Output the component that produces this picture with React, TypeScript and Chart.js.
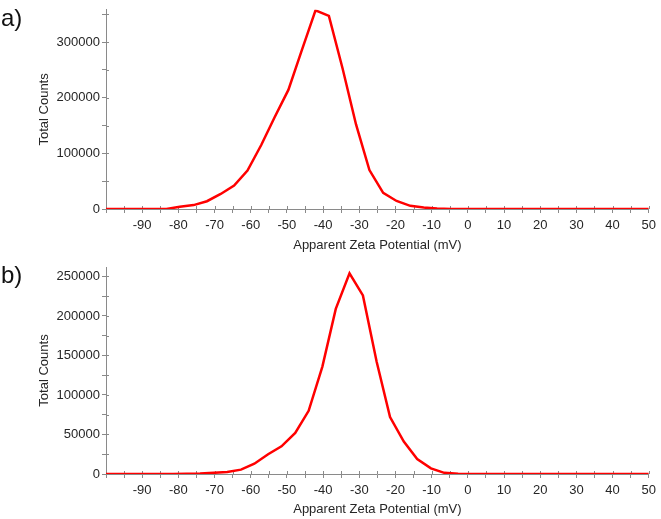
import React, { useEffect, useRef } from 'react';
import { Chart, registerables } from 'chart.js';

Chart.register(...registerables);

// Panel a) data
const zetaA = [-100, -83.3, -79.6, -75.8, -72.1, -68.3, -64.6, -60.9, -57.1, -53.4, -49.6, -45.9, -42.1, -38.4, -34.6, -30.9, -27.2, -23.4, -19.7, -15.9, -12.2, -8.5, -4.7, -1.0, 50];
const countsA = [0, 0, 4000, 7000, 14000, 27000, 42000, 69000, 115000, 165000, 214000, 285000, 357000, 347000, 252000, 152000, 70000, 29000, 14400, 5700, 2500, 800, 200, 0, 0];

// Panel b) data
const zetaB = [-100, -81.5, -77.7, -74.0, -70.2, -66.5, -62.7, -59.0, -55.2, -51.5, -47.7, -44.0, -40.2, -36.5, -32.7, -29.0, -25.2, -21.5, -17.7, -14.0, -10.2, -6.5, -2.7, 50];
const countsB = [0, 0, 300, 700, 1500, 2500, 5500, 13000, 25000, 35000, 52000, 80000, 136000, 209000, 254000, 226000, 142000, 72000, 41000, 19000, 7200, 1500, 200, 0];

const xMin = -100;
const xMax = 50;
const xMinorStep = 5;
const xLabelStep = 10;

const yMaxA = 358000;
const yMinorStepA = 50000;
const yLabelStepA = 100000;

const yMaxB = 262000;
const yMinorStepB = 25000;
const yLabelStepB = 50000;

const xTitle = 'Apparent Zeta Potential (mV)';
const yTitle = 'Total Counts';

const AXIS = '#8a8a8a';
const TEXT = '#262626';
const LINE = '#ff0000';
const FONT = '"Liberation Sans", Arial, sans-serif';

const innerTicks = {
  id: 'innerTicks',
  beforeDatasetsDraw(chart: any) {
    const ctx = chart.ctx;
    const xs = chart.scales.x;
    const ys = chart.scales.y;
    ctx.save();
    ctx.strokeStyle = AXIS;
    ctx.lineWidth = 1;
    ctx.beginPath();
    xs.ticks.forEach((t: any) => {
      const px = Math.round(xs.getPixelForValue(t.value)) + 0.5;
      ctx.moveTo(px, xs.top);
      ctx.lineTo(px, xs.top - 3);
    });
    ys.ticks.forEach((t: any) => {
      const py = Math.round(ys.getPixelForValue(t.value)) + 0.5;
      ctx.moveTo(ys.right, py);
      ctx.lineTo(ys.right + 3, py);
    });
    ctx.stroke();
    ctx.restore();
  },
};

function makeConfig(xs: number[], ys: number[], yMax: number, yStep: number, yLabelStep: number, padTop: number, xHeight: number): any {
  const pts = xs.map((x, i) => ({ x, y: ys[i] }));
  return {
    type: 'line',
    data: {
      datasets: [
        {
          data: pts,
          borderColor: LINE,
          borderWidth: 2.5,
          pointRadius: 0,
          tension: 0,
          fill: false,
        },
      ],
    },
    plugins: [innerTicks],
    options: {
      responsive: false,
      maintainAspectRatio: false,
      animation: false,
      layout: { padding: { top: padTop, right: 9, left: 0, bottom: 0 } },
      plugins: { legend: { display: false }, tooltip: { enabled: false }, title: { display: false } },
      scales: {
        x: {
          type: 'linear',
          min: xMin,
          max: xMax,
          afterFit: (s: any) => { s.height = xHeight; },
          afterBuildTicks: (s: any) => {
            const t = [];
            for (let v = xMin; v <= xMax; v += xMinorStep) t.push({ value: v });
            s.ticks = t;
          },
          ticks: {
            autoSkip: false,
            maxRotation: 0,
            minRotation: 0,
            padding: 5,
            color: TEXT,
            font: { family: FONT, size: 13 },
            callback: (v: number) => (v % xLabelStep === 0 && v !== xMin ? String(v) : ''),
          },
          grid: { display: true, drawOnChartArea: false, drawTicks: true, tickLength: 4, color: AXIS },
          border: { display: true, color: AXIS, width: 1 },
          title: { display: true, text: xTitle, color: TEXT, font: { family: FONT, size: 13 }, padding: { top: 0, bottom: 2 } },
        },
        y: {
          type: 'linear',
          min: 0,
          max: yMax,
          afterFit: (s: any) => { s.width = 106; },
          afterBuildTicks: (s: any) => {
            const t = [];
            for (let v = 0; v <= yMax; v += yStep) t.push({ value: v });
            s.ticks = t;
          },
          ticks: {
            autoSkip: false,
            padding: 2,
            color: TEXT,
            font: { family: FONT, size: 13 },
            callback: (v: number) => (v % yLabelStep === 0 ? String(v) : ''),
          },
          grid: { display: true, drawOnChartArea: false, drawTicks: true, tickLength: 4, color: AXIS },
          border: { display: true, color: AXIS, width: 1 },
          title: { display: true, text: yTitle, color: TEXT, font: { family: FONT, size: 13 }, padding: { top: 37, bottom: 0 } },
        },
      },
    },
  };
}

export default function App() {
  const refA = useRef<HTMLCanvasElement | null>(null);
  const refB = useRef<HTMLCanvasElement | null>(null);

  useEffect(() => {
    const a = new Chart(refA.current as HTMLCanvasElement, makeConfig(zetaA, countsA, yMaxA, yMinorStepA, yLabelStepA, 3, 46));
    const b = new Chart(refB.current as HTMLCanvasElement, makeConfig(zetaB, countsB, yMaxB, yMinorStepB, yLabelStepB, 12, 45));
    return () => {
      a.destroy();
      b.destroy();
    };
  }, []);

  const labelStyle: React.CSSProperties = {
    position: 'absolute',
    left: 1,
    fontFamily: FONT,
    fontSize: 24,
    lineHeight: '24px',
    color: '#111',
  };

  return (
    <div style={{ position: 'absolute', left: 0, top: 0, width: 661, height: 519, background: '#fff' }}>
      <canvas ref={refA} width={661} height={255} style={{ position: 'absolute', left: 0, top: 0, width: 661, height: 255 }} />
      <canvas ref={refB} width={661} height={264} style={{ position: 'absolute', left: 0, top: 255, width: 661, height: 264 }} />
      <div style={{ ...labelStyle, top: 6 }}>a)</div>
      <div style={{ ...labelStyle, top: 263 }}>b)</div>
    </div>
  );
}
